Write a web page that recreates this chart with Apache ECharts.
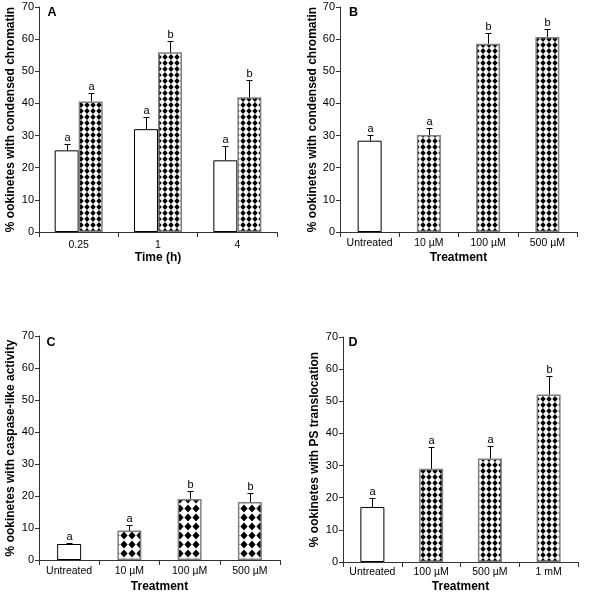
<!DOCTYPE html>
<html><head><meta charset="utf-8">
<script src="https://cdn.jsdelivr.net/npm/echarts@6/dist/echarts.min.js"></script>
<style>html,body{margin:0;padding:0;background:#fff}#c{width:595px;height:594px}</style>
</head><body><div id="c"></div>
<script>
const FONT = '"Liberation Sans", Arial, Helvetica, sans-serif';

// ---- Data ----
// Panel A
const timeCategories = ['0.25', '1', '4'];
const aControlValues = [25.4, 32.0, 22.3];
const aControlErrors = [2.0, 3.9, 4.5];
const aControlLetters = ['a', 'a', 'a'];
const aTreatedValues = [40.6, 55.9, 41.9];
const aTreatedErrors = [2.8, 3.4, 5.4];
const aTreatedLetters = ['a', 'b', 'b'];
// Panel B
const bCategories = ['Untreated', '10 µM', '100 µM', '500 µM'];
const bValues = [28.4, 30.2, 58.6, 60.7];
const bErrors = [1.7, 2.3, 3.3, 2.6];
const bLetters = ['a', 'a', 'b', 'b'];
// Panel C
const cCategories = ['Untreated', '10 µM', '100 µM', '500 µM'];
const cValues = [5.0, 9.2, 19.1, 18.1];
const cErrors = [0.4, 1.8, 2.6, 2.8];
const cLetters = ['a', 'a', 'b', 'b'];
// Panel D
const dCategories = ['Untreated', '100 µM', '500 µM', '1 mM'];
const dValues = [17.1, 29.0, 32.2, 52.1];
const dErrors = [2.8, 6.7, 3.8, 5.7];
const dLetters = ['a', 'a', 'a', 'b'];
// Axis
const yMin = 0, yMax = 70, yInterval = 10;
const panelLetters = ['A', 'B', 'C', 'D'];
const yTitles = ['% ookinetes with condensed chromatin', '% ookinetes with condensed chromatin',
  '% ookinetes with caspase-like activity', '% ookinetes with PS translocation'];
const xTitles = ['Time (h)', 'Treatment', 'Treatment', 'Treatment'];

// ---- Patterns ----
function diamondPattern(w, h, rx, ry) {
  const c = document.createElement('canvas');
  c.width = w; c.height = h;
  const g = c.getContext('2d');
  g.fillStyle = '#fff'; g.fillRect(0, 0, w, h);
  g.fillStyle = '#000';
  g.beginPath();
  g.moveTo(w / 2, h / 2 - ry); g.lineTo(w / 2 + rx, h / 2);
  g.lineTo(w / 2, h / 2 + ry); g.lineTo(w / 2 - rx, h / 2);
  g.closePath(); g.fill();
  return { image: c, repeat: 'repeat' };
}
const patSmall = diamondPattern(6, 6, 2.7, 2.9);
const patLarge = diamondPattern(8, 9, 3.6, 4.1);

const whiteStyle = { color: '#fff', borderColor: '#000', borderWidth: 1 };
function patStyle(p) { return { color: p, borderColor: '#808080', borderWidth: 1.5 }; }

// ---- Layout ----
const grids = [
  { left: 39, top: 7, width: 238, height: 225 },
  { left: 340, top: 7, width: 237, height: 225 },
  { left: 39, top: 336, width: 241, height: 224 },
  { left: 343, top: 337, width: 235, height: 226 }
];
const yNameGaps = [22, 18, 22, 22];
const xNameGaps = [20, 20, 21, 19];
const xLabelMargins = [8, 6, 6, 5];
const letterPos = [[52, 13], [353.5, 13], [51, 343], [353, 343]];
const catsList = [timeCategories, bCategories, cCategories, dCategories];

function errSeries(idx, values, errors, letters, offset) {
  return {
    type: 'custom', xAxisIndex: idx, yAxisIndex: idx, z: 5, silent: true,
    data: values.map((v, i) => [i, v, errors[i]]),
    renderItem(params, api) {
      const i = api.value(0), v = api.value(1), e = api.value(2);
      const base = api.coord([i, v]);
      const top = api.coord([i, v + e]);
      const x = Math.round(base[0] + offset) + 0.5;
      const yt = Math.round(top[1]) + 0.5;
      return {
        type: 'group', children: [
          { type: 'line', shape: { x1: x, y1: base[1], x2: x, y2: yt }, style: { stroke: '#000', lineWidth: 1 } },
          { type: 'line', shape: { x1: x - 3, y1: yt, x2: x + 3, y2: yt }, style: { stroke: '#000', lineWidth: 1 } },
          { type: 'text', x: x, y: yt - 1.5, style: { text: letters[params.dataIndex], textAlign: 'center', textVerticalAlign: 'bottom', font: '11px ' + FONT, fill: '#000' } }
        ]
      };
    }
  };
}

function barSeries(idx, values, pat) {
  return {
    type: 'bar', xAxisIndex: idx, yAxisIndex: idx, barWidth: 24, silent: true,
    data: values.map((v, i) => ({ value: v, itemStyle: i === 0 ? whiteStyle : patStyle(pat) }))
  };
}

const series = [
  { type: 'bar', xAxisIndex: 0, yAxisIndex: 0, barWidth: 24, barGap: '0%', silent: true,
    data: aControlValues.map(v => ({ value: v, itemStyle: whiteStyle })) },
  { type: 'bar', xAxisIndex: 0, yAxisIndex: 0, barWidth: 24, barGap: '0%', silent: true,
    data: aTreatedValues.map(v => ({ value: v, itemStyle: patStyle(patSmall) })) },
  errSeries(0, aControlValues, aControlErrors, aControlLetters, -12),
  errSeries(0, aTreatedValues, aTreatedErrors, aTreatedLetters, 12),
  barSeries(1, bValues, patSmall),
  errSeries(1, bValues, bErrors, bLetters, 0),
  barSeries(2, cValues, patLarge),
  errSeries(2, cValues, cErrors, cLetters, 0),
  barSeries(3, dValues, patSmall),
  errSeries(3, dValues, dErrors, dLetters, 0)
];

const option = {
  animation: false,
  backgroundColor: '#fff',
  grid: grids.map(g => Object.assign({ containLabel: false }, g)),
  xAxis: catsList.map((cats, i) => ({
    type: 'category', gridIndex: i, data: cats,
    name: xTitles[i], nameLocation: 'middle', nameGap: xNameGaps[i],
    nameTextStyle: { fontFamily: FONT, fontWeight: 'bold', fontSize: 12, color: '#000' },
    axisLine: { lineStyle: { color: '#333', width: 1 } },
    axisTick: { show: true, length: 5, lineStyle: { color: '#333' } },
    axisLabel: { fontFamily: FONT, fontSize: 10.5, color: '#000', margin: xLabelMargins[i], interval: 0 },
    splitLine: { show: false }
  })),
  yAxis: catsList.map((cats, i) => ({
    type: 'value', gridIndex: i, min: yMin, max: yMax, interval: yInterval,
    name: yTitles[i], nameLocation: 'middle', nameGap: yNameGaps[i], nameRotate: 90,
    nameTextStyle: { fontFamily: FONT, fontWeight: 'bold', fontSize: 12, color: '#000' },
    axisLine: { show: true, lineStyle: { color: '#333', width: 1 } },
    axisTick: { show: true, length: 4, lineStyle: { color: '#333' } },
    axisLabel: { fontFamily: FONT, fontSize: 11, color: '#000', margin: 5 },
    splitLine: { show: false }
  })),
  graphic: panelLetters.map((t, i) => ({
    type: 'text', x: letterPos[i][0], y: letterPos[i][1],
    style: { text: t, font: 'bold 12.5px ' + FONT, fill: '#000', textAlign: 'center', textVerticalAlign: 'middle' }
  })),
  series
};

const chart = echarts.init(document.getElementById('c'), null, { renderer: 'canvas' });
chart.setOption(option);
</script>
</body></html>
